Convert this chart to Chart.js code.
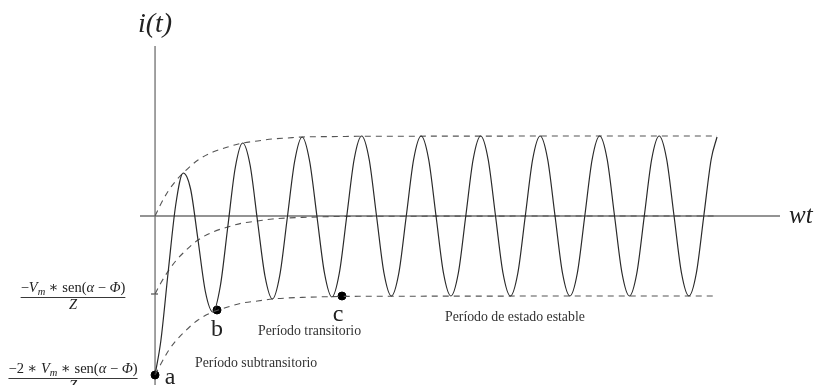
<!DOCTYPE html>
<html>
<head>
<meta charset="utf-8">
<script src="https://cdn.jsdelivr.net/npm/chart.js@4"></script>
<style>
  body { margin: 0; background: #fff; }
  canvas { display: block; }
</style>
</head>
<body>
<canvas id="currentChart" width="817" height="385"></canvas>
<script>
// wt in degrees, samples along the transient current i(t)
const wtDeg = [0,
  35, 80, 125, 170, 215, 260, 305, 350, 395, 440,
  485, 530, 575, 620, 665, 710, 755, 800, 845, 890,
  935, 980, 1025, 1070, 1115, 1160, 1205, 1250, 1295, 1340,
  1385, 1430, 1475, 1520, 1565, 1610, 1655, 1700, 1745, 1790,
  1835, 1880, 1925, 1970, 2015, 2060, 2105, 2150, 2195, 2240,
  2285, 2330, 2375, 2420, 2465, 2510, 2555, 2600, 2645, 2690,
  2735, 2780, 2825, 2870, 2915, 2960, 3005, 3050, 3095, 3140,
  3185, 3230, 3275, 3320, 3365,
  3400];
const current = [-159,
  -125, -55, 11, 43, 27, -24, -76, -96, -70, -11,
  48, 73, 51, -5, -60, -83, -59, -2, 55, 79,
  55, -1, -57, -81, -57, 0, 57, 80, 57, 0,
  -57, -80, -57, 0, 57, 80, 57, 0, -57, -80,
  -57, 0, 57, 80, 57, 0, -57, -80, -57, 0,
  57, 80, 57, 0, -57, -80, -57, 0, 57, 80,
  57, 0, -57, -80, -57, 0, 57, 80, 57, 0,
  -57, -80, -57, 0, 57,
  79];

// dashed envelopes
const envDeg   = [0, 35, 80, 125, 170, 260, 350, 440, 530, 620, 710, 800, 890, 1070, 1250, 3400];
const upperEnv = [0, 12, 25, 35, 43, 56, 64, 69, 73, 75, 77, 78, 79, 79.4, 79.7, 80];
const dcEnv    = [-78, -67, -55, -45, -37, -24, -16, -11, -7, -5, -3, -2, -1.4, -0.6, -0.3, 0];
const lowerEnv = [-159, -148, -135, -125, -117, -104, -96, -91, -87, -85, -83, -82, -81.4, -80.6, -80.3, -80];

// marked points
const markNames = ['a', 'b', 'c'];
const markDeg = [0, 375, 1131];
const markVal = [-159, -94, -80];

const serif = '"Liberation Serif", "DejaVu Serif", serif';

function pts(xs, ys) {
  return xs.map((x, i) => ({ x: x, y: ys[i] }));
}

function dashed(data) {
  return {
    data: data,
    borderColor: '#555',
    borderWidth: 1.1,
    borderDash: [6, 5],
    pointRadius: 0,
    cubicInterpolationMode: 'monotone',
    fill: false
  };
}

// draws a run of text pieces, some italic / subscript, centred on cx
function richText(ctx, parts, cx, y, size) {
  const fontOf = p => (p.i ? 'italic ' : '') + (p.sub ? size * 0.72 : size) + 'px ' + serif;
  let w = 0;
  parts.forEach(p => { ctx.font = fontOf(p); w += ctx.measureText(p.t).width; });
  let x = cx - w / 2;
  ctx.textAlign = 'left';
  parts.forEach(p => {
    ctx.font = fontOf(p);
    ctx.fillText(p.t, x, p.sub ? y + size * 0.2 : y);
    x += ctx.measureText(p.t).width;
  });
  return w;
}

function fraction(ctx, parts, cx, yNum, size) {
  const w = richText(ctx, parts, cx, yNum, size);
  ctx.fillRect(cx - w / 2, yNum + 5, w, 0.9);
  ctx.font = 'italic ' + size + 'px ' + serif;
  ctx.textAlign = 'center';
  ctx.fillText('Z', cx, yNum + 17);
}

const sinPart = [
  { t: ' ∗ sen(' }, { t: 'α', i: true }, { t: ' − ' }, { t: 'Φ', i: true }, { t: ')' }
];

const drawingPlugin = {
  id: 'drawing',
  beforeDatasetsDraw(chart) {
    const { ctx, chartArea: a, scales: { x, y } } = chart;
    const x0 = x.getPixelForValue(0);
    const y0 = y.getPixelForValue(0);
    ctx.save();
    ctx.strokeStyle = '#707070';
    ctx.lineWidth = 1.3;
    ctx.beginPath();
    ctx.moveTo(a.left, y0); ctx.lineTo(a.right, y0);
    ctx.moveTo(x0, a.top); ctx.lineTo(x0, a.bottom);
    const yt = y.getPixelForValue(dcEnv[0]);
    ctx.moveTo(x0 - 4, yt); ctx.lineTo(x0 + 3, yt);
    ctx.stroke();
    ctx.restore();
  },
  afterDatasetsDraw(chart) {
    const { ctx, scales: { x, y } } = chart;
    ctx.save();
    ctx.fillStyle = '#222';
    ctx.textBaseline = 'alphabetic';

    // axis names
    ctx.font = 'italic 28px ' + serif;
    ctx.textAlign = 'center';
    ctx.fillText('i(t)', x.getPixelForValue(0), 32);
    ctx.textAlign = 'left';
    ctx.font = 'italic 25px ' + serif;
    ctx.fillText('wt', 789, y.getPixelForValue(0) + 7);

    // point letters
    const offs = [[15, 9], [0, 26], [-4, 25]];
    ctx.font = '24px ' + serif;
    ctx.textAlign = 'center';
    markNames.forEach((n, i) => {
      const px = x.getPixelForValue(markDeg[i]);
      const py = y.getPixelForValue(markVal[i]);
      ctx.fillText(n, px + offs[i][0], py + offs[i][1]);
    });

    // left fractions
    fraction(ctx, [{ t: '−' }, { t: 'V', i: true }, { t: 'm', i: true, sub: true }].concat(sinPart), 73, 292, 14.5);
    fraction(ctx, [{ t: '−2 ∗ ' }, { t: 'V', i: true }, { t: 'm', i: true, sub: true }].concat(sinPart), 73, 373, 14.5);

    // period names
    ctx.fillStyle = '#333';
    ctx.font = '13.8px ' + serif;
    ctx.textAlign = 'left';
    ctx.textBaseline = 'middle';
    ctx.fillText('Período transitorio', 258, 331);
    ctx.fillText('Período de estado estable', 445, 317);
    ctx.fillText('Período subtransitorio', 195, 363);
    ctx.restore();
  }
};

new Chart(document.getElementById('currentChart'), {
  type: 'line',
  data: {
    datasets: [
      {
        data: pts(wtDeg, current),
        borderColor: '#2a2a2a',
        borderWidth: 1.2,
        pointRadius: 0,
        cubicInterpolationMode: 'monotone',
        fill: false
      },
      dashed(pts(envDeg, upperEnv)),
      dashed(pts(envDeg, dcEnv)),
      dashed(pts(envDeg, lowerEnv)),
      {
        data: pts(markDeg, markVal),
        showLine: false,
        pointRadius: 4,
        pointBackgroundColor: '#000',
        pointBorderColor: '#000'
      }
    ]
  },
  options: {
    responsive: false,
    animation: false,
    layout: { autoPadding: false, padding: { left: 140, right: 37, top: 46, bottom: 0 } },
    plugins: { legend: { display: false }, tooltip: { enabled: false } },
    scales: {
      x: { type: 'linear', min: -91, max: 3781, display: false },
      y: { min: -169, max: 170, display: false }
    }
  },
  plugins: [drawingPlugin]
});
</script>
</body>
</html>
